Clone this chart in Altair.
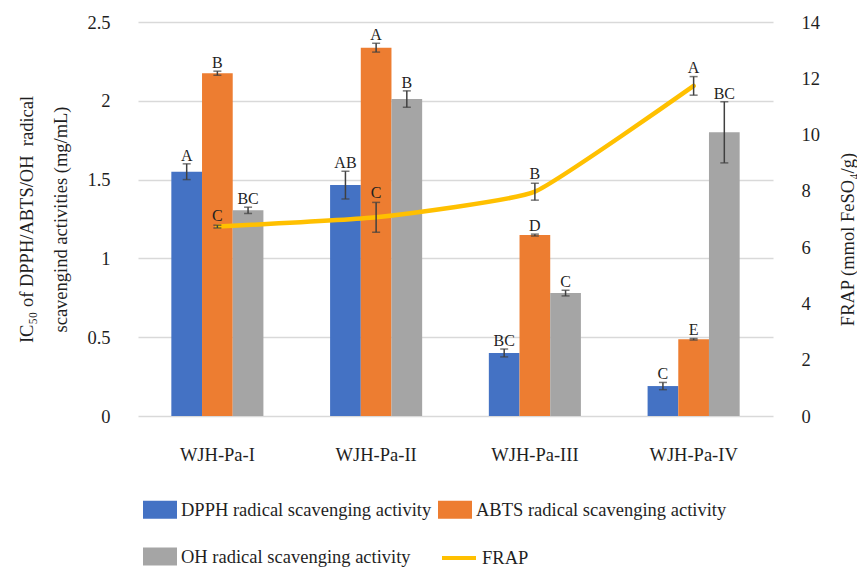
import altair as alt
import pandas as pd

FONT = "Liberation Serif"
INK = "#1f1f1f"
ERR = "#404040"

groups = ["WJH-Pa-I", "WJH-Pa-II", "WJH-Pa-III", "WJH-Pa-IV"]
series = [
    "DPPH radical scavenging activity",
    "ABTS radical scavenging activity",
    "OH radical scavenging activity",
]
series_colors = ["#4472C4", "#ED7D31", "#A5A5A5"]

# IC50 values (mg/mL), standard deviations and significance letters
dpph = [1.55, 1.465, 0.40, 0.19]
dpph_err = [0.05, 0.088, 0.025, 0.023]
dpph_sig = ["A", "AB", "BC", "C"]
abts = [2.175, 2.337, 1.148, 0.487]
abts_err = [0.013, 0.028, 0.006, 0.005]
abts_sig = ["B", "A", "D", "E"]
oh = [1.305, 2.011, 0.78, 1.80]
oh_err = [0.02, 0.052, 0.018, 0.194]
oh_sig = ["BC", "B", "C", "BC"]

# FRAP (mmol FeSO4/g)
frap = [6.73, 7.06, 7.97, 11.73]
frap_err = [0.05, 0.53, 0.30, 0.33]
frap_sig = ["C", "C", "B", "A"]

rows = []
for name, vals, errs, sigs in zip(series, [dpph, abts, oh], [dpph_err, abts_err, oh_err],
                                  [dpph_sig, abts_sig, oh_sig]):
    for g, v, e, s in zip(groups, vals, errs, sigs):
        rows.append({"group": g, "series": name, "value": v, "lo": v - e, "hi": v + e, "sig": s})
bars_df = pd.DataFrame(rows)

frap_df = pd.DataFrame({
    "group": groups,
    "measure": ["FRAP"] * 4,
    "value": frap,
    "lo": [v - e for v, e in zip(frap, frap_err)],
    "hi": [v + e for v, e in zip(frap, frap_err)],
    "sig": frap_sig,
})

x_enc = alt.X(
    "group:N", sort=groups, title=None,
    scale=alt.Scale(paddingInner=0.42, paddingOuter=0.21),
    axis=alt.Axis(labelAngle=0, labelFont=FONT, labelFontSize=18.5, labelColor=INK,
                  ticks=False, domain=False, labelPadding=29),
)
xo_enc = alt.XOffset("series:N", sort=series, scale=alt.Scale(paddingInner=0, paddingOuter=0))

left_axis = alt.Axis(
    values=[0, 0.5, 1, 1.5, 2, 2.5], format="~g",
    labelFont=FONT, labelFontSize=18.5, labelColor=INK, labelPadding=28,
    ticks=False, domain=False, grid=True, gridColor="#D9D9D9", gridWidth=1.3,
    title=["IC\u2085\u2080 of DPPH/ABTS/OH\u00a0 radical", "scavengind activities (mg/mL)"],
    titleFont=FONT, titleFontSize=18.5, titleFontWeight="normal", titleColor=INK,
    titleAngle=270, titleAlign="center", titleBaseline="alphabetic",
    titleX=-106, titleY=197, titleLineHeight=34,
)
left_scale = alt.Scale(domain=[0, 2.5], nice=False)

right_axis = alt.Axis(
    orient="right", values=list(range(0, 15, 2)),
    labelFont=FONT, labelFontSize=18.5, labelColor=INK, labelPadding=28,
    ticks=False, domain=False, grid=False,
    title="FRAP (mmol FeSO\u2084/g)",
    titleFont=FONT, titleFontSize=18.5, titleFontWeight="normal", titleColor=INK,
    titleAngle=270, titleAlign="center", titleBaseline="alphabetic",
    titleX=80, titleY=217,
)
right_scale = alt.Scale(domain=[0, 14], nice=False)

bar_legend = alt.Legend(
    orient="none", legendX=5, legendY=470.5, columns=2, direction="horizontal", title=None,
    symbolType="M-1,-0.53L1,-0.53L1,0.53L-1,0.53Z", symbolSize=1156, symbolStrokeWidth=0,
    labelFont=FONT, labelFontSize=18.5, labelColor=INK, labelOffset=4, labelLimit=400,
    columnPadding=6, rowPadding=20, padding=0,
)

bars_base = alt.Chart(bars_df)
bars = bars_base.mark_bar().encode(
    x=x_enc, xOffset=xo_enc,
    y=alt.Y("value:Q", scale=left_scale, axis=left_axis),
    color=alt.Color("series:N", sort=series,
                    scale=alt.Scale(domain=series, range=series_colors), legend=bar_legend),
)
bar_err = bars_base.mark_rule(color=ERR, strokeWidth=1.5).encode(
    x=x_enc, xOffset=xo_enc,
    y=alt.Y("lo:Q", scale=left_scale, axis=left_axis), y2="hi:Q",
)
bar_cap_hi = bars_base.mark_tick(color=ERR, size=8, thickness=1.5).encode(
    x=x_enc, xOffset=xo_enc, y=alt.Y("hi:Q", scale=left_scale, axis=left_axis),
)
bar_cap_lo = bars_base.mark_tick(color=ERR, size=8, thickness=1.5).encode(
    x=x_enc, xOffset=xo_enc, y=alt.Y("lo:Q", scale=left_scale, axis=left_axis),
)
bar_sig = bars_base.mark_text(font=FONT, fontSize=16, color=INK, baseline="bottom").encode(
    x=x_enc, xOffset=xo_enc, y=alt.Y("hi:Q", scale=left_scale, axis=left_axis), text="sig:N",
)
left = alt.layer(bars, bar_err, bar_cap_hi, bar_cap_lo, bar_sig)

frap_legend = alt.Legend(
    orient="none", legendX=302, legendY=517, title=None,
    symbolType="stroke", symbolSize=1156, symbolStrokeWidth=4,
    labelFont=FONT, labelFontSize=18.5, labelColor=INK, labelOffset=4, padding=0,
)
frap_base = alt.Chart(frap_df)
frap_line = frap_base.mark_line(
    interpolate="cardinal", tension=0.6, strokeWidth=4.5, strokeCap="round"
).encode(
    x=x_enc,
    y=alt.Y("value:Q", scale=right_scale, axis=right_axis),
    stroke=alt.Stroke("measure:N", scale=alt.Scale(domain=["FRAP"], range=["#FFC000"]),
                      legend=frap_legend),
)
frap_errbar = frap_base.mark_rule(color=ERR, strokeWidth=1.5).encode(
    x=x_enc, y=alt.Y("lo:Q", scale=right_scale, axis=right_axis), y2="hi:Q",
)
frap_cap_hi = frap_base.mark_tick(color=ERR, size=8, thickness=1.5).encode(
    x=x_enc, y=alt.Y("hi:Q", scale=right_scale, axis=right_axis),
)
frap_cap_lo = frap_base.mark_tick(color=ERR, size=8, thickness=1.5).encode(
    x=x_enc, y=alt.Y("lo:Q", scale=right_scale, axis=right_axis),
)
frap_text = frap_base.mark_text(font=FONT, fontSize=16, color=INK, baseline="bottom", dy=-1).encode(
    x=x_enc, y=alt.Y("hi:Q", scale=right_scale, axis=right_axis), text="sig:N",
)
right = alt.layer(frap_line, frap_errbar, frap_cap_hi, frap_cap_lo, frap_text)

chart = (
    alt.layer(left, right)
    .resolve_scale(y="independent")
    .properties(
        width=635, height=394,
        autosize=alt.AutoSizeParams(type="none"),
        padding={"left": 138, "top": 22, "right": 84, "bottom": 152},
        background="white",
    )
    .configure_view(stroke=None)
)

chart.save("out.html", embed_options={"renderer": "svg", "actions": False})
